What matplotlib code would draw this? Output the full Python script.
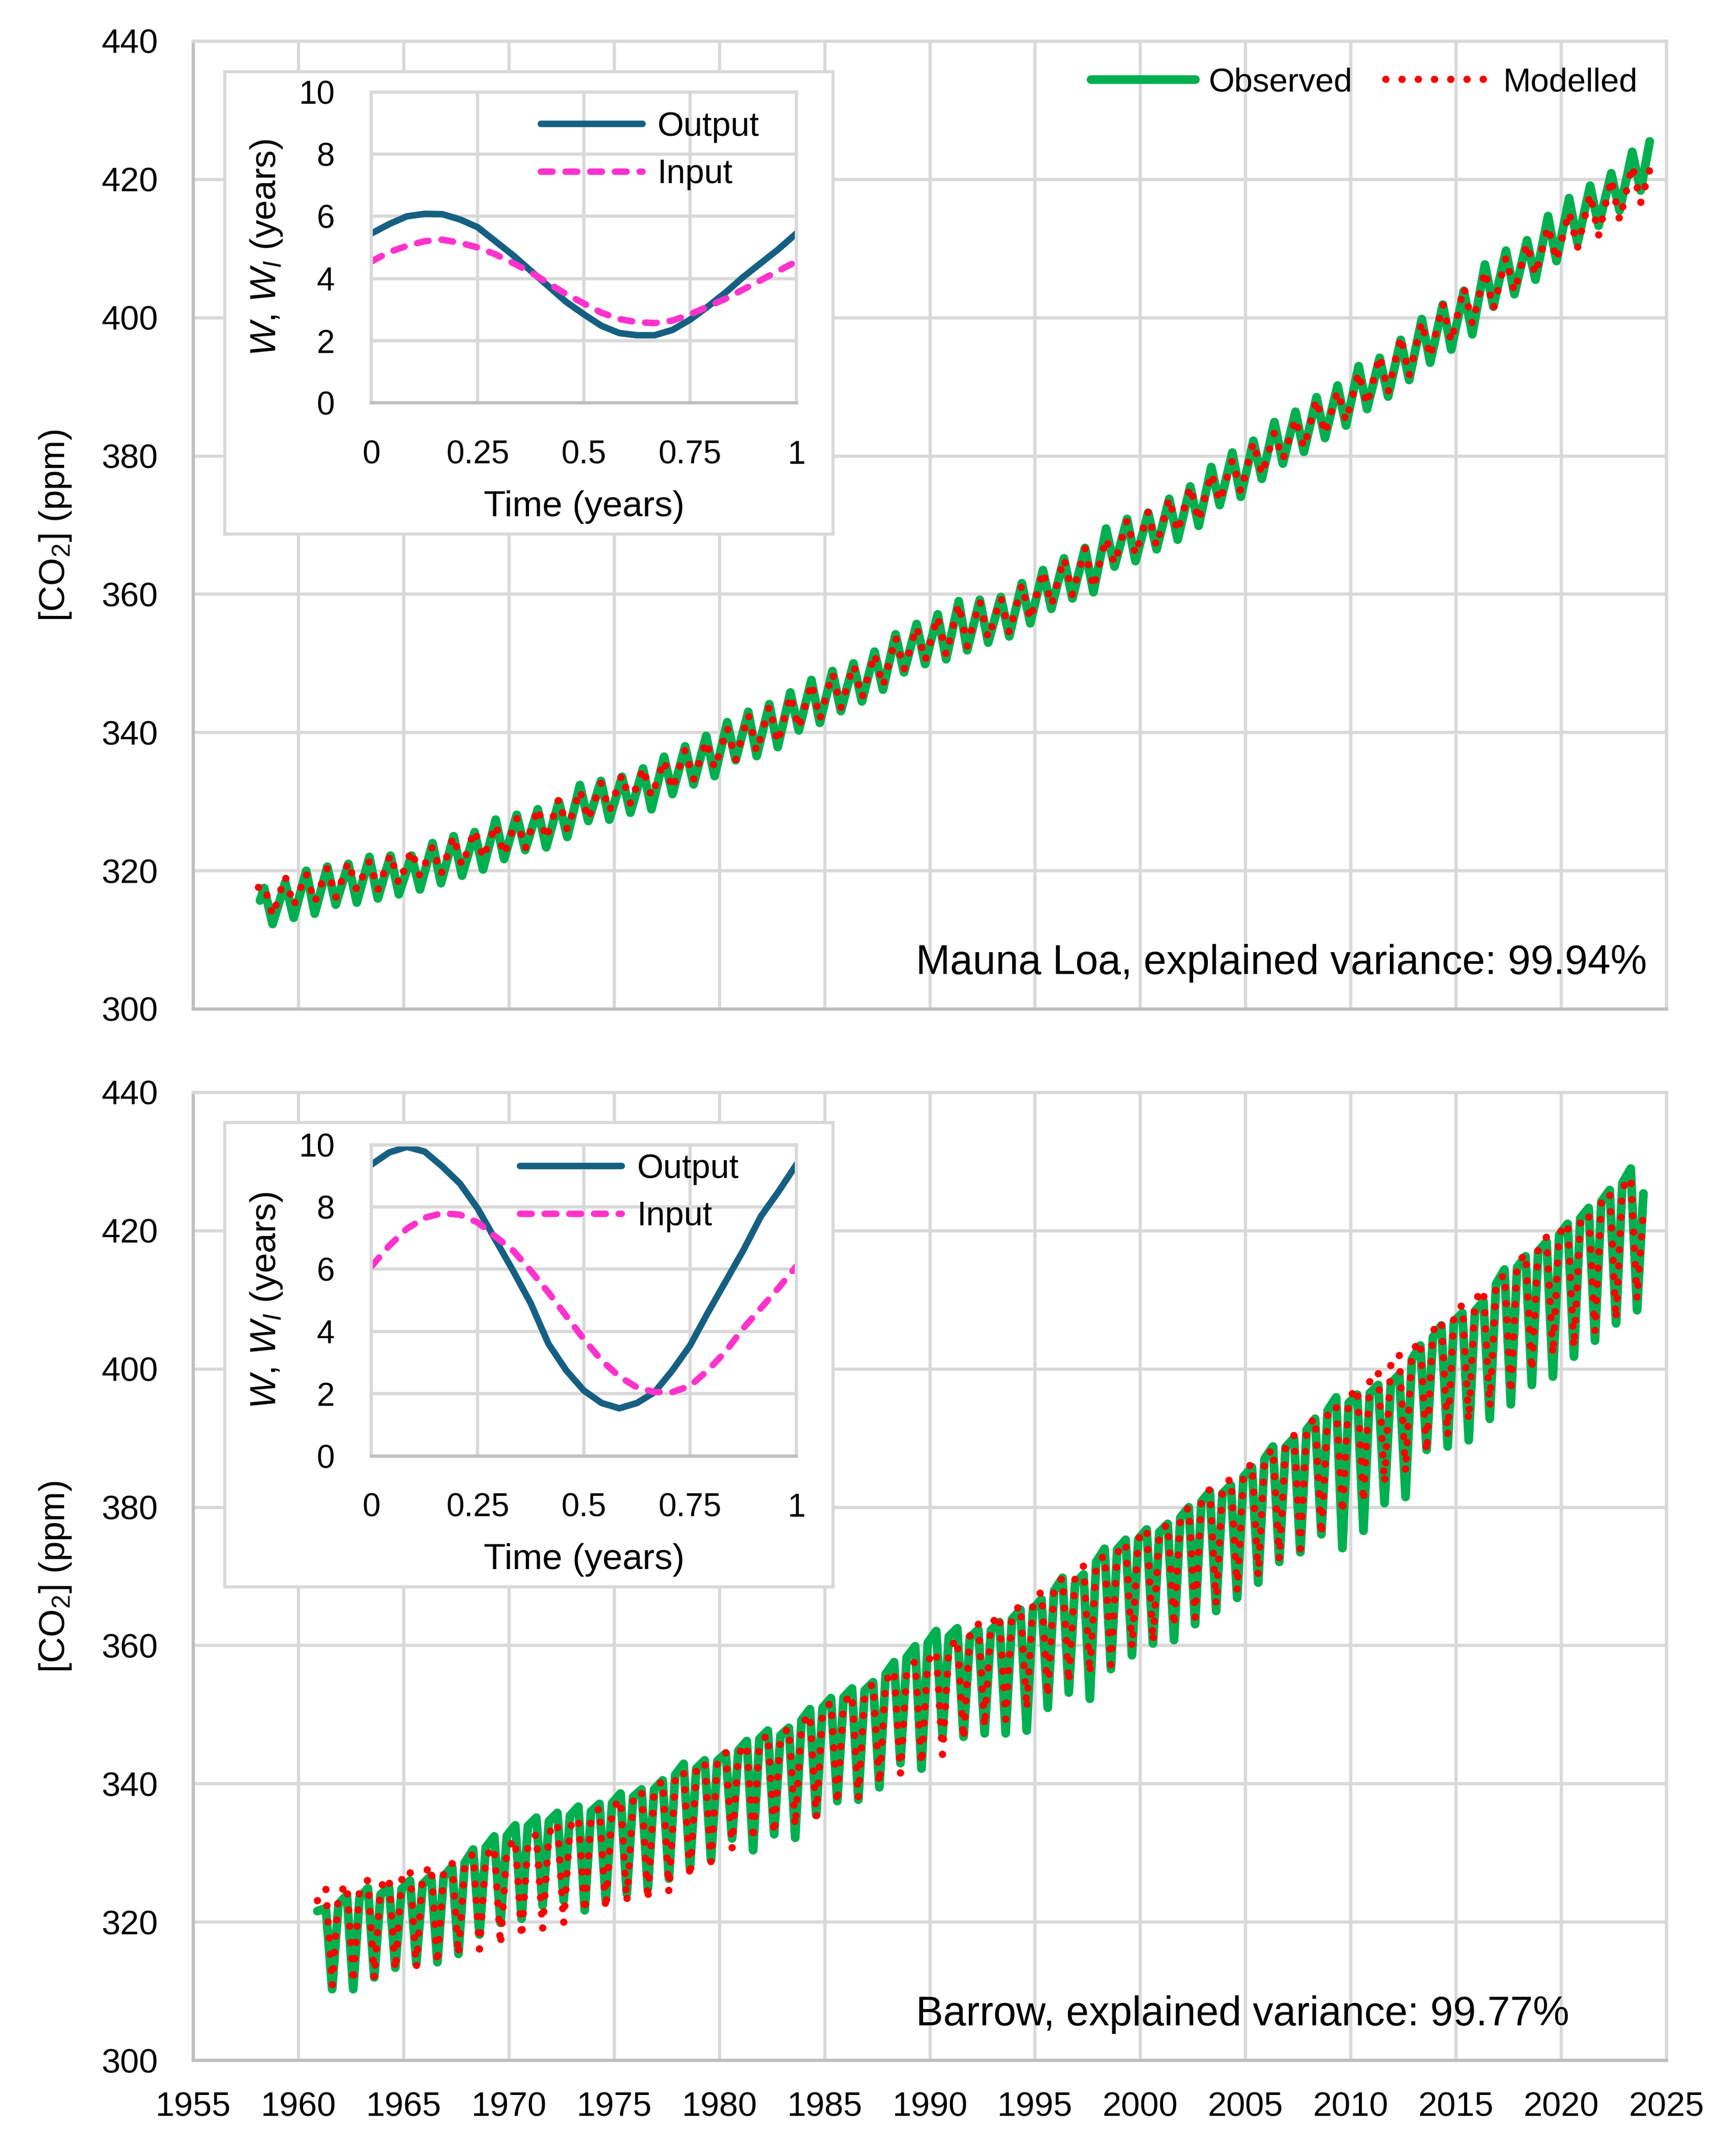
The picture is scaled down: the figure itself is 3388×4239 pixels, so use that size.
import numpy as np
import matplotlib
matplotlib.use("Agg")
import matplotlib.pyplot as plt

plt.rcParams['font.family'] = ['Liberation Sans', 'DejaVu Sans']
plt.rcParams['mathtext.fontset'] = 'custom'
plt.rcParams['mathtext.rm'] = 'Liberation Sans'
plt.rcParams['mathtext.it'] = 'Liberation Sans:italic'

# ---------------- Mauna Loa (yearly May peak / autumn trough, ppm) ----------------
mlo_years = np.arange(1958, 2024)
mlo_obs_peak = [317.5, 318.3, 320.0, 320.6, 321.0, 322.0, 322.2, 322.2, 324.0, 325.0,
                325.6, 327.4, 328.1, 328.9, 330.0, 332.4, 333.0, 333.6, 334.8, 336.5,
                338.0, 339.5, 341.5, 343.0, 344.1, 345.8, 347.6, 348.9, 350.0, 351.7,
                354.2, 355.7, 357.1, 359.0, 359.2, 359.6, 361.6, 363.5, 365.2, 366.7,
                369.5, 370.9, 371.8, 373.8, 375.6, 378.4, 380.5, 382.2, 384.9, 386.4,
                388.5, 390.2, 393.0, 394.2, 396.8, 399.8, 401.9, 403.9, 407.7, 409.7,
                411.2, 414.7, 417.3, 419.1, 420.9, 424.0]
mlo_obs_trough = [312.3, 313.2, 313.8, 315.1, 315.4, 316.0, 316.6, 317.3, 318.2, 319.3,
                  320.2, 321.7, 323.0, 323.4, 324.9, 327.2, 327.4, 328.4, 328.9, 331.1,
                  332.5, 333.7, 336.0, 336.6, 337.9, 340.3, 341.4, 343.1, 344.5, 346.2,
                  348.7, 349.9, 350.6, 351.9, 353.0, 353.9, 355.8, 357.9, 359.4, 360.3,
                  364.0, 364.8, 366.5, 367.9, 369.9, 372.9, 374.1, 376.7, 378.9, 380.6,
                  382.6, 384.4, 386.8, 388.6, 391.0, 393.5, 395.4, 397.6, 401.6, 403.4,
                  405.5, 408.2, 410.8, 413.3, 415.5, 418.4]
mlo_mod_peak = [317.9, 319.2, 319.6, 320.4, 321.3, 321.4, 322.4, 323.0, 323.5, 325.0,
                325.9, 326.7, 327.6, 329.1, 330.4, 331.7, 332.7, 333.9, 334.9, 336.0,
                337.5, 338.8, 340.7, 342.6, 343.8, 345.4, 347.2, 348.6, 349.8, 351.4,
                353.8, 355.3, 356.8, 358.6, 359.0, 359.5, 361.4, 363.4, 365.2, 366.6,
                368.1, 370.7, 371.9, 373.9, 375.6, 377.5, 379.4, 382.0, 383.4, 385.4,
                388.2, 389.4, 392.1, 394.5, 397.3, 399.4, 402.0, 404.4, 406.8, 408.7,
                410.7, 413.2, 415.3, 417.9, 420.1, 422.0]
mlo_mod_trough = [313.5, 314.9, 315.4, 316.1, 317.2, 317.2, 318.1, 319.2, 319.5, 320.7,
                  321.8, 322.3, 323.2, 324.6, 325.9, 327.4, 328.6, 329.7, 330.7, 331.8,
                  333.2, 334.8, 336.0, 337.2, 338.5, 340.6, 341.9, 343.6, 345.0, 346.7,
                  349.1, 350.4, 351.2, 352.5, 353.6, 354.4, 356.3, 358.4, 359.9, 360.9,
                  364.4, 365.7, 366.9, 369.0, 370.6, 373.4, 374.8, 377.3, 379.5, 381.2,
                  383.2, 385.0, 387.4, 389.2, 391.6, 394.3, 396.5, 399.1, 401.3, 403.7,
                  406.2, 408.3, 410.1, 411.9, 414.1, 416.6]
mlo_obs_ends = [(1958.17, 315.7), (2024.2, 425.5)]
mlo_mod_ends = [(1958.10, 317.6), (2024.2, 421.4)]

# ---------------- Barrow (winter plateau / spring peak / summer trough, ppm) ----------------
brw_years = np.arange(1961, 2024)
brw_obs_winter = [321.6,
                  322.6, 323.5, 324.0, 324.8, 325.5, 326.6, 328.6, 330.8, 332.5, 333.9,
                  334.6, 335.4, 336.0, 337.2, 338.1, 339.2, 341.3, 342.2, 343.3, 344.8,
                  346.5, 347.0, 349.2, 351.0, 352.5, 353.5, 355.9, 358.3, 360.4, 361.3,
                  361.2, 362.2, 363.8, 365.3, 367.9, 369.0, 372.1, 373.9, 375.4, 376.4,
                  378.5, 380.8, 382.0, 384.4, 387.0, 388.7, 391.2, 394.0, 395.1, 396.5,
                  397.9, 401.4, 404.6, 406.9, 408.4, 412.3, 414.7, 417.0, 419.4, 421.8,
                  424.2, 426.9,
                  425.4]
brw_obs_peak = [322.0, 323.9, 324.9, 325.1, 326.0, 326.7, 328.0, 330.5, 332.4, 334.0,
                335.1, 335.8, 336.7, 337.1, 338.6, 339.2, 340.5, 342.9, 343.4, 344.4,
                346.2, 347.7, 348.1, 350.8, 352.4, 353.8, 354.7, 357.6, 359.9, 362.1,
                362.5, 362.3, 363.4, 365.2, 366.7, 369.8, 370.3, 374.0, 375.3, 376.8,
                377.6, 380.0, 382.3, 383.2, 385.8, 388.8, 390.0, 392.8, 395.9, 396.3,
                397.7, 399.2, 403.4, 406.3, 408.1, 409.8, 414.4, 416.3, 418.4, 421.0,
                423.3, 425.9, 429.0]
brw_obs_trough = [310.3, 310.3, 312.0, 313.4, 314.0, 314.2, 315.4, 318.2, 319.9, 320.5,
                  322.4, 323.1, 321.7, 323.2, 324.1, 324.8, 326.3, 327.8, 329.0, 332.1,
                  330.4, 332.7, 332.2, 335.5, 337.5, 337.7, 339.5, 343.0, 342.2, 347.0,
                  346.8, 347.3, 347.3, 347.7, 351.0, 353.2, 352.3, 356.6, 358.6, 360.3,
                  360.8, 363.1, 365.0, 366.9, 369.1, 372.1, 373.5, 376.1, 374.1, 376.6,
                  380.6, 381.5, 388.3, 388.8, 389.7, 392.8, 394.9, 397.7, 398.9, 401.8,
                  404.1, 406.6, 408.5]
brw_mod_winter = [323.1,
                  324.0, 324.7, 325.1, 326.1, 326.8, 327.3, 328.4, 329.5, 330.6, 331.4,
                  332.9, 333.8, 335.0, 336.4, 337.5, 339.0, 340.5, 341.8, 343.2, 344.4,
                  345.8, 346.8, 348.6, 350.4, 351.7, 353.1, 354.9, 356.4, 357.8, 359.5,
                  361.6, 363.1, 364.5, 366.3, 368.3, 370.1, 371.7, 373.4, 375.4, 376.3,
                  378.5, 381.0, 382.8, 384.9, 387.1, 389.0, 391.5, 393.4, 395.8, 398.2,
                  400.6, 402.6, 405.5, 407.8, 410.0, 412.3, 415.2, 417.6, 419.6, 421.1,
                  424.0, 426.2,
                  423.0]
brw_mod_peak = [324.9, 325.5, 326.1, 326.5, 327.6, 328.2, 328.6, 329.9, 330.9, 332.0,
                332.7, 334.4, 335.1, 336.5, 337.8, 339.0, 340.5, 341.9, 343.2, 344.6,
                345.7, 347.2, 348.1, 350.1, 351.8, 353.0, 354.5, 356.4, 357.7, 359.2,
                361.0, 363.2, 364.5, 365.9, 367.8, 369.8, 371.5, 373.1, 374.9, 376.9,
                377.6, 380.0, 382.6, 384.2, 386.4, 388.5, 390.4, 393.0, 394.8, 397.3,
                399.7, 402.2, 404.1, 407.0, 409.3, 411.5, 413.7, 416.7, 419.1, 421.1,
                422.5, 425.5, 427.7]
brw_mod_trough = [310.8, 311.2, 311.8, 313.0, 313.4, 313.9, 315.2, 316.1, 316.6, 317.7,
                  319.0, 319.8, 321.4, 321.8, 322.9, 323.1, 324.3, 326.4, 328.7, 330.6,
                  331.8, 332.7, 333.8, 335.1, 337.1, 337.9, 339.9, 341.5, 342.8, 344.2,
                  346.4, 348.2, 349.3, 350.8, 352.6, 354.6, 355.9, 357.2, 359.7, 360.5,
                  362.7, 364.0, 365.9, 367.9, 370.0, 372.4, 374.0, 375.9, 379.1, 380.7,
                  383.5, 385.1, 387.9, 390.3, 392.5, 394.5, 396.5, 399.7, 402.0, 403.1,
                  405.4, 407.1, 410.1]

# ---------------- seasonal response insets (years) ----------------
inset_t = np.linspace(0, 1, 25)
mlo_output = [5.45, 5.75, 6.00, 6.08, 6.07, 5.90, 5.65, 5.20, 4.75, 4.25, 3.75, 3.25, 2.85,
              2.48, 2.25, 2.18, 2.18, 2.35, 2.68, 3.10, 3.55, 4.05, 4.50, 4.95, 5.45]
mlo_input = [4.55, 4.85, 5.05, 5.20, 5.25, 5.15, 5.00, 4.78, 4.50, 4.20, 3.85, 3.50, 3.20,
             2.90, 2.70, 2.60, 2.57, 2.65, 2.85, 3.10, 3.35, 3.65, 3.95, 4.25, 4.55]
brw_output = [9.36, 9.75, 9.93, 9.78, 9.30, 8.75, 7.95, 6.95, 5.95, 4.90, 3.60, 2.75, 2.10,
              1.70, 1.53, 1.70, 2.05, 2.75, 3.55, 4.60, 5.60, 6.60, 7.70, 8.50, 9.36]
brw_input = [6.09, 6.75, 7.30, 7.65, 7.80, 7.75, 7.50, 7.05, 6.60, 5.95, 5.25, 4.50, 3.75,
             3.07, 2.55, 2.20, 2.05, 2.05, 2.25, 2.75, 3.35, 4.10, 4.75, 5.40, 6.09]

GREEN = '#00B050'
RED = '#FF0000'
DARKBLUE = '#156082'
PINK = '#FF33CC'
GRID = '#D9D9D9'
AXIS = '#BFBFBF'


def mlo_series(peaks, troughs, ends):
    t = np.ravel(np.column_stack([mlo_years + 0.37, mlo_years + 0.77]))
    v = np.ravel(np.column_stack([peaks, troughs]))
    t = np.concatenate([[ends[0][0]], t, [ends[1][0]]])
    v = np.concatenate([[ends[0][1]], v, [ends[1][1]]])
    return t, v


def brw_series(winter, peaks, troughs):
    t = np.ravel(np.column_stack([brw_years - 0.1, brw_years + 0.3, brw_years + 0.6]))
    v = np.ravel(np.column_stack([winter[:-1], peaks, troughs]))
    t = np.append(t, brw_years[-1] + 0.9)
    v = np.append(v, winter[-1])
    return t, v


fig = plt.figure(figsize=(16.94, 21.195), dpi=200)

main_rects = [[0.11216, 0.53197, 0.85508, 0.44893],
              [0.11216, 0.04435, 0.85508, 0.44893]]
box_rects = [[0.13040, 0.75230, 0.35307, 0.21439],
             [0.13040, 0.26398, 0.35307, 0.21538]]
inset_rects = [[0.21558, 0.81305, 0.24660, 0.14435],
               [0.21558, 0.32472, 0.24660, 0.14435]]

obs = [mlo_series(mlo_obs_peak, mlo_obs_trough, mlo_obs_ends),
       brw_series(brw_obs_winter, brw_obs_peak, brw_obs_trough)]
mod = [mlo_series(mlo_mod_peak, mlo_mod_trough, mlo_mod_ends),
       brw_series(brw_mod_winter, brw_mod_peak, brw_mod_trough)]
notes = ['Mauna Loa, explained variance: 99.94%', 'Barrow, explained variance: 99.77%']
insets = [(mlo_output, mlo_input), (brw_output, brw_input)]

for i in range(2):
    ax = fig.add_axes(main_rects[i])
    ax.set_axisbelow(True)
    ax.grid(True, color=GRID, lw=2.3)
    ax.plot(obs[i][0], obs[i][1], color=GREEN, lw=6.2, solid_capstyle='round',
            solid_joinstyle='round', label='Observed', zorder=2)
    ax.plot(mod[i][0], mod[i][1], color=RED, lw=5.2, linestyle=(0, (0.01, 2.2)),
            dash_capstyle='round', label='Modelled', zorder=3)
    ax.set_xlim(1955, 2025)
    ax.set_ylim(300, 440)
    ax.set_xticks(np.arange(1955, 2026, 5))
    ax.set_yticks(np.arange(300, 441, 20))
    ax.tick_params(length=0, labelsize=24, pad=22)
    ax.tick_params(axis='y', pad=25)
    if i == 0:
        ax.tick_params(labelbottom=False)
    for s in ['left', 'bottom']:
        ax.spines[s].set_color(AXIS)
        ax.spines[s].set_linewidth(2.3)
    for s in ['top', 'right']:
        ax.spines[s].set_color(GRID)
        ax.spines[s].set_linewidth(2.3)
    ax.set_ylabel('[CO$_\\mathrm{2}$] (ppm)', fontsize=25.5, labelpad=20)
    ax.text(0.4905, 0.0363, notes[i], transform=ax.transAxes, fontsize=29.0,
            ha='left', va='baseline')
    if i == 0:
        ax.legend(loc='upper left', bbox_to_anchor=(0.6094, 0.973), ncol=2,
                  frameon=False, fontsize=23.5, handlelength=3.13,
                  handletextpad=0.41, columnspacing=1.0, borderpad=0,
                  borderaxespad=0)

    # white framed box behind the inset
    bx = fig.add_axes(box_rects[i], zorder=3)
    bx.set_xticks([])
    bx.set_yticks([])
    bx.set_facecolor('white')
    for s in bx.spines.values():
        s.set_color(GRID)
        s.set_linewidth(2.2)

    ins = fig.add_axes(inset_rects[i], zorder=4)
    ins.set_axisbelow(True)
    ins.grid(True, color=GRID, lw=2.3)
    ins.plot(inset_t, insets[i][0], color=DARKBLUE, lw=4.6, solid_capstyle='round',
             label='Output')
    ins.plot(inset_t, insets[i][1], color=PINK, lw=4.6, linestyle=(0, (1.8, 2.0)),
             dash_capstyle='round', label='Input')
    ins.set_xlim(0, 1)
    ins.set_ylim(0, 10)
    ins.set_xticks([0, 0.25, 0.5, 0.75, 1])
    ins.set_xticklabels(['0', '0.25', '0.5', '0.75', '1'])
    ins.set_yticks(np.arange(0, 11, 2))
    ins.tick_params(length=0, labelsize=23, pad=26)
    for s in ['top', 'right', 'left']:
        ins.spines[s].set_color(GRID)
        ins.spines[s].set_linewidth(2.3)
    ins.spines['bottom'].set_color(AXIS)
    ins.spines['bottom'].set_linewidth(2.3)
    ins.set_xlabel('Time (years)', fontsize=25.5, labelpad=14)
    ins.set_ylabel('$W$, $W_I$ (years)', fontsize=25.5, labelpad=10)
    anchor = (0.398, 0.938) if i == 0 else (0.3496, 0.972)
    ins.legend(loc='upper left', bbox_to_anchor=anchor, frameon=False, fontsize=24,
               handlelength=3.0, handletextpad=0.45, labelspacing=0.47,
               borderpad=0, borderaxespad=0)

fig.savefig('out.png', dpi=200, facecolor='white')
